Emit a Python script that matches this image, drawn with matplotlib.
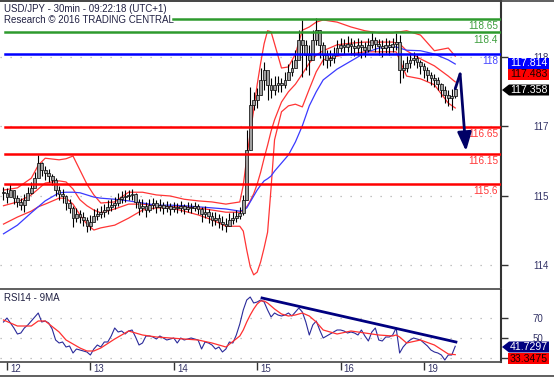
import numpy as np
import matplotlib
matplotlib.use('Agg')
import matplotlib.pyplot as plt
from matplotlib.patches import Polygon
from matplotlib.lines import Line2D
import matplotlib.transforms as mtransforms

plt.rcParams['font.family'] = ['Liberation Sans', 'DejaVu Sans']

# ---------------- data ----------------
close = [115.43,115.35,115.48,115.33,115.26,115.20,115.30,115.43,115.52,115.70,
         115.98,115.85,115.80,115.74,115.67,115.48,115.41,115.37,115.24,115.15,
         114.96,115.04,114.98,114.93,114.81,114.89,115.00,115.04,115.07,115.11,
         115.17,115.20,115.24,115.31,115.35,115.37,115.39,115.41,115.26,115.15,
         115.19,115.11,115.20,115.24,115.17,115.20,115.15,115.19,115.13,115.17,
         115.15,115.19,115.13,115.17,115.15,115.19,115.13,115.04,115.07,115.00,
         114.93,114.96,114.89,114.85,114.81,114.93,114.96,115.00,115.06,115.30,
         116.22,117.06,117.15,117.24,117.52,117.70,117.43,117.33,117.43,117.46,
         117.43,117.52,117.67,117.74,117.89,118.26,118.17,117.98,117.89,118.26,
         118.44,118.17,117.98,117.89,117.93,117.98,118.11,118.17,118.13,118.19,
         118.15,118.11,118.17,118.13,118.07,118.17,118.26,118.19,118.15,118.11,
         118.17,118.13,118.19,118.22,117.70,117.74,117.83,117.89,117.93,117.85,
         117.78,117.70,117.61,117.56,117.52,117.44,117.33,117.24,117.19,117.22,
         117.358]
high = [115.54,115.52,115.59,115.48,115.39,115.33,115.41,115.54,115.63,115.81,
        116.13,116.00,115.93,115.87,115.78,115.70,115.56,115.50,115.39,115.31,
        115.19,115.15,115.11,115.07,114.98,115.02,115.13,115.15,115.19,115.22,
        115.30,115.31,115.35,115.43,115.46,115.48,115.48,115.50,115.43,115.31,
        115.31,115.26,115.31,115.33,115.30,115.31,115.26,115.28,115.24,115.26,
        115.24,115.28,115.22,115.26,115.24,115.26,115.22,115.17,115.19,115.13,
        115.07,115.07,115.04,115.00,114.96,115.06,115.07,115.11,115.17,115.39,
        116.59,117.39,117.30,117.37,117.74,117.85,117.67,117.56,117.59,117.59,
        117.56,117.67,117.81,117.89,118.07,118.44,118.63,118.26,118.17,118.44,
        118.67,118.44,118.22,118.07,118.07,118.13,118.26,118.30,118.28,118.33,
        118.30,118.26,118.30,118.26,118.22,118.30,118.41,118.31,118.28,118.26,
        118.30,118.26,118.30,118.39,118.35,117.89,117.96,118.02,118.04,117.98,
        117.89,117.83,117.76,117.67,117.63,117.57,117.46,117.41,117.33,117.35,
        117.41]
low = [115.30,115.24,115.37,115.22,115.17,115.11,115.07,115.31,115.41,115.56,
       115.85,115.74,115.67,115.63,115.57,115.37,115.30,115.24,115.11,115.06,
       114.80,114.89,114.87,114.81,114.70,114.74,114.89,114.93,114.96,114.98,
       115.04,115.09,115.13,115.19,115.24,115.26,115.30,115.30,115.15,115.02,
       115.07,114.98,115.07,115.13,115.06,115.09,115.04,115.07,115.02,115.07,
       115.06,115.07,115.04,115.07,115.06,115.09,115.04,114.89,114.96,114.87,
       114.81,114.83,114.78,114.74,114.70,114.81,114.85,114.89,114.94,115.02,
       115.30,116.22,116.96,117.00,117.24,117.33,117.15,117.19,117.24,117.30,
       117.30,117.37,117.52,117.59,117.74,117.98,117.57,117.70,117.61,117.98,
       118.17,117.93,117.80,117.74,117.78,117.83,117.98,118.04,118.00,118.04,
       117.98,117.96,117.98,117.93,117.94,118.04,118.11,118.04,117.98,117.94,
       118.02,117.98,118.04,118.07,117.46,117.56,117.67,117.74,117.80,117.74,
       117.63,117.56,117.50,117.43,117.39,117.33,117.20,117.09,117.04,116.96,
       117.19]

# indicator sample positions (bar index)
band_idx = [0,4,8,10,12,16,18,20,22,24,26,28,32,36,40,44,48,52,56,60,64,68,69,70,71,
            72,73,74,75,76,77,78,80,82,84,86,88,90,92,96,100,104,108,112,113,114,116,
            120,124,128,130]
bb_upper = [115.48,115.52,115.70,115.94,116.07,116.04,116.06,116.11,115.85,115.59,
            115.39,115.24,115.26,115.44,115.44,115.39,115.37,115.31,115.28,115.26,
            115.22,115.26,115.57,116.07,116.54,116.96,117.43,117.83,118.19,118.43,
            118.41,118.19,117.74,117.76,118.00,118.44,118.50,118.59,118.63,118.59,
            118.50,118.43,118.39,118.39,118.41,118.41,118.43,118.35,118.06,118.11,
            117.96]
bb_mid = [115.19,115.26,115.39,115.50,115.61,115.65,115.63,115.50,115.30,115.19,
          115.11,115.06,115.13,115.22,115.22,115.19,115.17,115.17,115.15,115.11,
          115.07,115.07,115.11,115.17,115.28,115.41,115.59,115.81,116.07,116.31,
          116.57,116.78,117.11,117.30,117.44,117.63,117.83,117.98,118.06,118.17,
          118.20,118.22,118.22,118.22,118.20,118.19,118.06,117.91,117.78,117.59,
          117.483]
bb_lower = [114.85,114.98,115.09,115.17,115.22,115.33,115.33,115.22,115.02,114.85,
            114.74,114.78,114.83,114.96,115.11,115.15,115.15,115.09,115.02,114.93,
            114.81,114.81,114.72,114.37,114.06,113.91,113.96,114.15,114.41,114.70,
            115.52,116.41,116.93,117.04,117.07,117.02,117.35,117.67,117.89,117.96,
            118.00,118.04,118.04,118.04,118.04,117.89,117.59,117.54,117.43,117.09,
            117.00]
ma_blue = [114.67,114.83,115.06,115.17,115.28,115.43,115.44,115.44,115.43,115.39,
           115.35,115.33,115.31,115.28,115.24,115.20,115.20,115.19,115.17,115.15,
           115.13,115.09,115.11,115.15,115.26,115.37,115.48,115.57,115.65,115.69,
           115.74,115.83,115.98,116.13,116.37,116.67,117.04,117.30,117.52,117.72,
           117.87,118.02,118.11,118.13,118.13,118.11,118.07,118.06,118.00,117.89,
           117.814]

rsi = [66,70,65,60,54,55,60,63,67,71,
       75,66,67,65,59,48,45,46,41,42,
       35,39,38,37,36,33,39,43,41,46,
       46,52,60,56,57,54,57,58,51,43,
       45,52,52,51,49,52,50,48,49,50,
       45,50,48,49,50,49,48,39,46,45,
       43,39,41,36,39,46,45,53,64,78,
       88,91,85,86,88,86,78,71,75,73,
       72,73,75,72,76,80,76,66,53,63,
       67,58,50,52,54,56,58,58,57,55,
       56,55,53,58,52,47,56,60,48,47,
       51,51,53,60,35,41,45,48,50,49,
       48,45,42,38,36,35,33,28,33,33,
       41.7297]
rsi_ma = [68,62,62,67,67,56,48,44,40,37,37,40,49,57,53,51,50,49,48,45,41,52,58,66,73,
          79,84,87,87,85,82,79,74,72,73,75,72,66,58,54,57,55,53,52,53,51,45,48,43,34,
          33.3475]

day_labels = ['12', '13', '14', '15', '16', '19']
day_start_idx = [1, 25, 49, 73, 97, 121]

resistance_levels = [118.65, 118.4]
pivot_level = 118.0
support_levels = [116.65, 116.15, 115.6]

price_tick_pos = [117.944, 116.667, 115.370, 114.093]   # where the chart draws its labels
price_tick_labels = ['118', '117', '115', '114']
rsi_ticks = [70, 50, 30]

arrow_idx = [130, 131.4, 133.1]
arrow_val = [117.358, 117.63, 116.20]
rsi_trend_idx = [74.4, 130.2]
rsi_trend_val = [90, 46]

# ---------------- figure ----------------
W, H = 554, 377
fig = plt.figure(figsize=(W / 100, H / 100), dpi=100)
fig.patch.set_facecolor('white')


def rect(x0, y0, x1, y1):
    return [x0 / W, 1 - y1 / H, (x1 - x0) / W, (y1 - y0) / H]


ax1 = fig.add_axes(rect(0, 1, 501, 289))
ax2 = fig.add_axes(rect(0, 290, 501, 362))
XL = (-1.007, 143.17)
for ax in (ax1, ax2):
    ax.set_xlim(*XL)
    ax.set_facecolor('white')
    ax.spines['left'].set_visible(False)
    ax.spines['right'].set_color('#333333')
    ax.spines['right'].set_linewidth(1.5)
    ax.spines['bottom'].set_color('#444444')
    ax.spines['bottom'].set_linewidth(1.2)
    ax.spines['top'].set_color('#444444')
    ax.spines['top'].set_linewidth(1.2)
ax2.spines['top'].set_visible(False)

ax1.set_ylim(113.648, 118.981)
ax2.set_ylim(26, 98)

tick_col = '#333366'
# price axis
ax1.yaxis.tick_right()
ax1.set_yticks(price_tick_pos)
ax1.set_yticklabels(price_tick_labels)
ax1.tick_params(axis='y', direction='out', length=5, width=1, color='#333333',
                labelsize=7, labelcolor=tick_col, pad=18)
ax1.set_xticks([])
ax1.grid(axis='y', color='#b0b0b0', linestyle=(0, (1, 7)), lw=0.9)

ax2.yaxis.tick_right()
ax2.set_yticks(rsi_ticks)
ax2.set_yticklabels([str(t) for t in rsi_ticks])
ax2.tick_params(axis='y', direction='out', length=5, width=1, color='#333333',
                labelsize=7, labelcolor=tick_col, pad=18)
ax2.set_xticks(day_start_idx)
ax2.tick_params(axis='x', direction='out', length=6, width=1, color='#333333',
                labelbottom=False)
ax2.grid(axis='y', color='#b0b0b0', linestyle=(0, (1, 7)), lw=0.9)

trans_day = mtransforms.blended_transform_factory(ax2.transData, fig.transFigure)
for lab, pos in zip(day_labels, day_start_idx):
    ax2.text(pos + 0.9, 1 - 369 / H, lab, transform=trans_day, ha='left', va='center',
             fontsize=7, color=tick_col, clip_on=False)

# ---------------- price panel ----------------
idx = np.arange(len(close))
c = np.array(close)
o = np.r_[c[0], c[:-1]]
body_lo = np.minimum(o, c)
body_h = np.maximum(np.abs(c - o), 0.012)

ax1.plot(band_idx, bb_upper, color='#ff3535', lw=0.9, zorder=2)
ax1.plot(band_idx, bb_lower, color='#ff3535', lw=0.9, zorder=2)
ax1.plot(band_idx, bb_mid, color='#ff3535', lw=0.9, zorder=2)
ax1.plot(band_idx, ma_blue, color='#3a3aff', lw=0.9, zorder=2)

ax1.vlines(idx, low, high, color='black', lw=0.8, zorder=3)
ax1.bar(idx, body_h, bottom=body_lo, width=0.8, color='#a0a0a0', edgecolor='black',
        lw=0.5, zorder=4)

lvl_tr = mtransforms.blended_transform_factory(ax1.transAxes, ax1.transData)
ax1.axhline(resistance_levels[0], xmin=173 / 501, color='#2e9a2e', lw=1.8, zorder=5)
ax1.axhline(resistance_levels[1], xmin=5 / 501, color='#2e9a2e', lw=1.8, zorder=5)
ax1.axhline(pivot_level, xmin=5 / 501, color='#0000ff', lw=1.8, zorder=5)
for lv in support_levels:
    ax1.axhline(lv, xmin=5 / 501, color='#ff0000', lw=1.8, zorder=5)


def level_label(v, txt, col):
    ax1.text(498 / 501, v - 0.045, txt, transform=lvl_tr, ha='right', va='top',
             fontsize=7.2, color=col, zorder=6)


level_label(resistance_levels[0], '118.65', '#3f9f3f')
level_label(resistance_levels[1], '118.4', '#3f9f3f')
level_label(pivot_level, '118', '#4646ff')
for lv in support_levels:
    level_label(lv, f'{lv:g}', '#ff3838')

# forecast arrow
ax1.plot(arrow_idx[:2], arrow_val[:2], color='#000066', lw=2, zorder=7,
         solid_capstyle='round')
ax1.annotate('', xy=(arrow_idx[2], arrow_val[2]), xytext=(arrow_idx[1], arrow_val[1]),
             arrowprops=dict(arrowstyle='-|>,head_length=0.8,head_width=0.3',
                             color='#000066', lw=2, mutation_scale=14,
                             shrinkA=0, shrinkB=0), zorder=7)

# ---------------- RSI panel ----------------
ax2.plot(idx, rsi, color='#2a2a9a', lw=0.8, zorder=3)
ax2.plot(band_idx, rsi_ma, color='#ff3030', lw=0.9, zorder=3)
ax2.plot(rsi_trend_idx, rsi_trend_val, color='#000080', lw=2, zorder=4)

# ---------------- texts ----------------
txt_col = '#222244'
fig.text(4 / W, 1 - 9 / H, 'USD/JPY - 30min - 09:22:18 (UTC+1)', fontsize=7,
         color=txt_col, va='center', ha='left')
fig.text(4 / W, 1 - 20 / H, 'Research \u00a9 2016 TRADING CENTRAL', fontsize=7,
         color=txt_col, va='center', ha='left')
fig.text(4 / W, 1 - 298 / H, 'RSI14 - 9MA', fontsize=7, color=txt_col,
         va='center', ha='left')


# value boxes on the right
def value_box(txt, cy, fc, tc, pointer=False, h=11):
    x1 = 549
    if pointer:
        pts = [(502, cy), (509, cy - h / 2), (x1, cy - h / 2), (x1, cy + h / 2),
               (509, cy + h / 2)]
    else:
        pts = [(508, cy - h / 2), (x1, cy - h / 2), (x1, cy + h / 2), (508, cy + h / 2)]
    pts = [(x / W, 1 - y / H) for x, y in pts]
    fig.patches.append(Polygon(pts, closed=True, transform=fig.transFigure,
                               facecolor=fc, edgecolor='none', zorder=5))
    fig.text(548 / W, 1 - cy / H, txt, ha='right', va='center', color=tc,
             fontsize=7.6, zorder=6)


value_box(f'{ma_blue[-1]:.3f}', 63, '#0000ff', 'white')
value_box(f'{bb_mid[-1]:.3f}', 74, '#ff0000', '#1a0000')
value_box(f'{close[-1]:.3f}', 90, '#000000', 'white', pointer=True)
value_box(f'{rsi[-1]:.4f}', 347, '#000080', 'white', pointer=True)
value_box(f'{rsi_ma[-1]:.4f}', 358.5, '#ff0000', '#1a0000')

# frame lines
fig.lines.append(Line2D([0, 1], [1 - 1 / H, 1 - 1 / H], transform=fig.transFigure,
                        color='#444444', lw=1.2))
fig.lines.append(Line2D([0, 1], [1 - 376 / H, 1 - 376 / H], transform=fig.transFigure,
                        color='#444444', lw=1.2))

fig.savefig('out.png', dpi=100)
